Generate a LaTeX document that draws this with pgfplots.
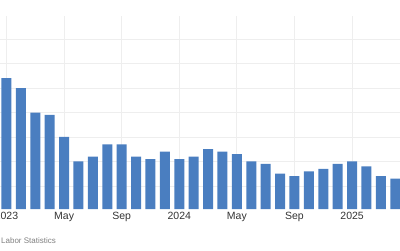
\documentclass[border=0pt]{standalone}
\usepackage{pgfplots}
\pgfplotsset{compat=1.18}
\usepackage{fontspec}
\setmainfont{Liberation Sans}
\definecolor{barblue}{RGB}{74,126,192}
\definecolor{gridgray}{RGB}{238,238,238}
\begin{document}
\begin{tikzpicture}
\useasboundingbox (0pt,0pt) rectangle (400pt,250pt);
\clip (0pt,0pt) rectangle (400pt,250pt);
\begin{axis}[
  scale only axis, width=432pt, height=193pt,
  at={(-7.9pt,41pt)}, anchor=south west,
  xmin=-1, xmax=29, ymin=1.06, ymax=8.94,
  axis line style={draw=none},
  major tick length=0pt,
  xtick={0,4,8,12,16,20,24},
  xticklabels={2023,May,Sep,2024,May,Sep,2025},
  ytick={2,3,4,5,6,7,8},
  yticklabels={},
  grid=major,
  major grid style={gridgray, line width=0.9pt},
  xticklabel style={font=\fontsize{10.5}{12}\selectfont, text=black!80},
  ybar, bar width=10pt,
]
\addplot[fill=barblue, draw=none] coordinates {
(0,6.4) (1,6.0) (2,5.0) (3,4.9) (4,4.0) (5,3.0) (6,3.2) (7,3.7) (8,3.7) (9,3.2)
(10,3.1) (11,3.4) (12,3.1) (13,3.2) (14,3.5) (15,3.4) (16,3.3) (17,3.0) (18,2.9) (19,2.5)
(20,2.4) (21,2.6) (22,2.7) (23,2.9) (24,3.0) (25,2.8) (26,2.4) (27,2.3)
};
\end{axis}
\node[anchor=base west, inner sep=0pt, font=\fontsize{8}{9}\selectfont, text=black!50] at (1pt,6.7pt) {Labor Statistics};
\end{tikzpicture}
\end{document}
